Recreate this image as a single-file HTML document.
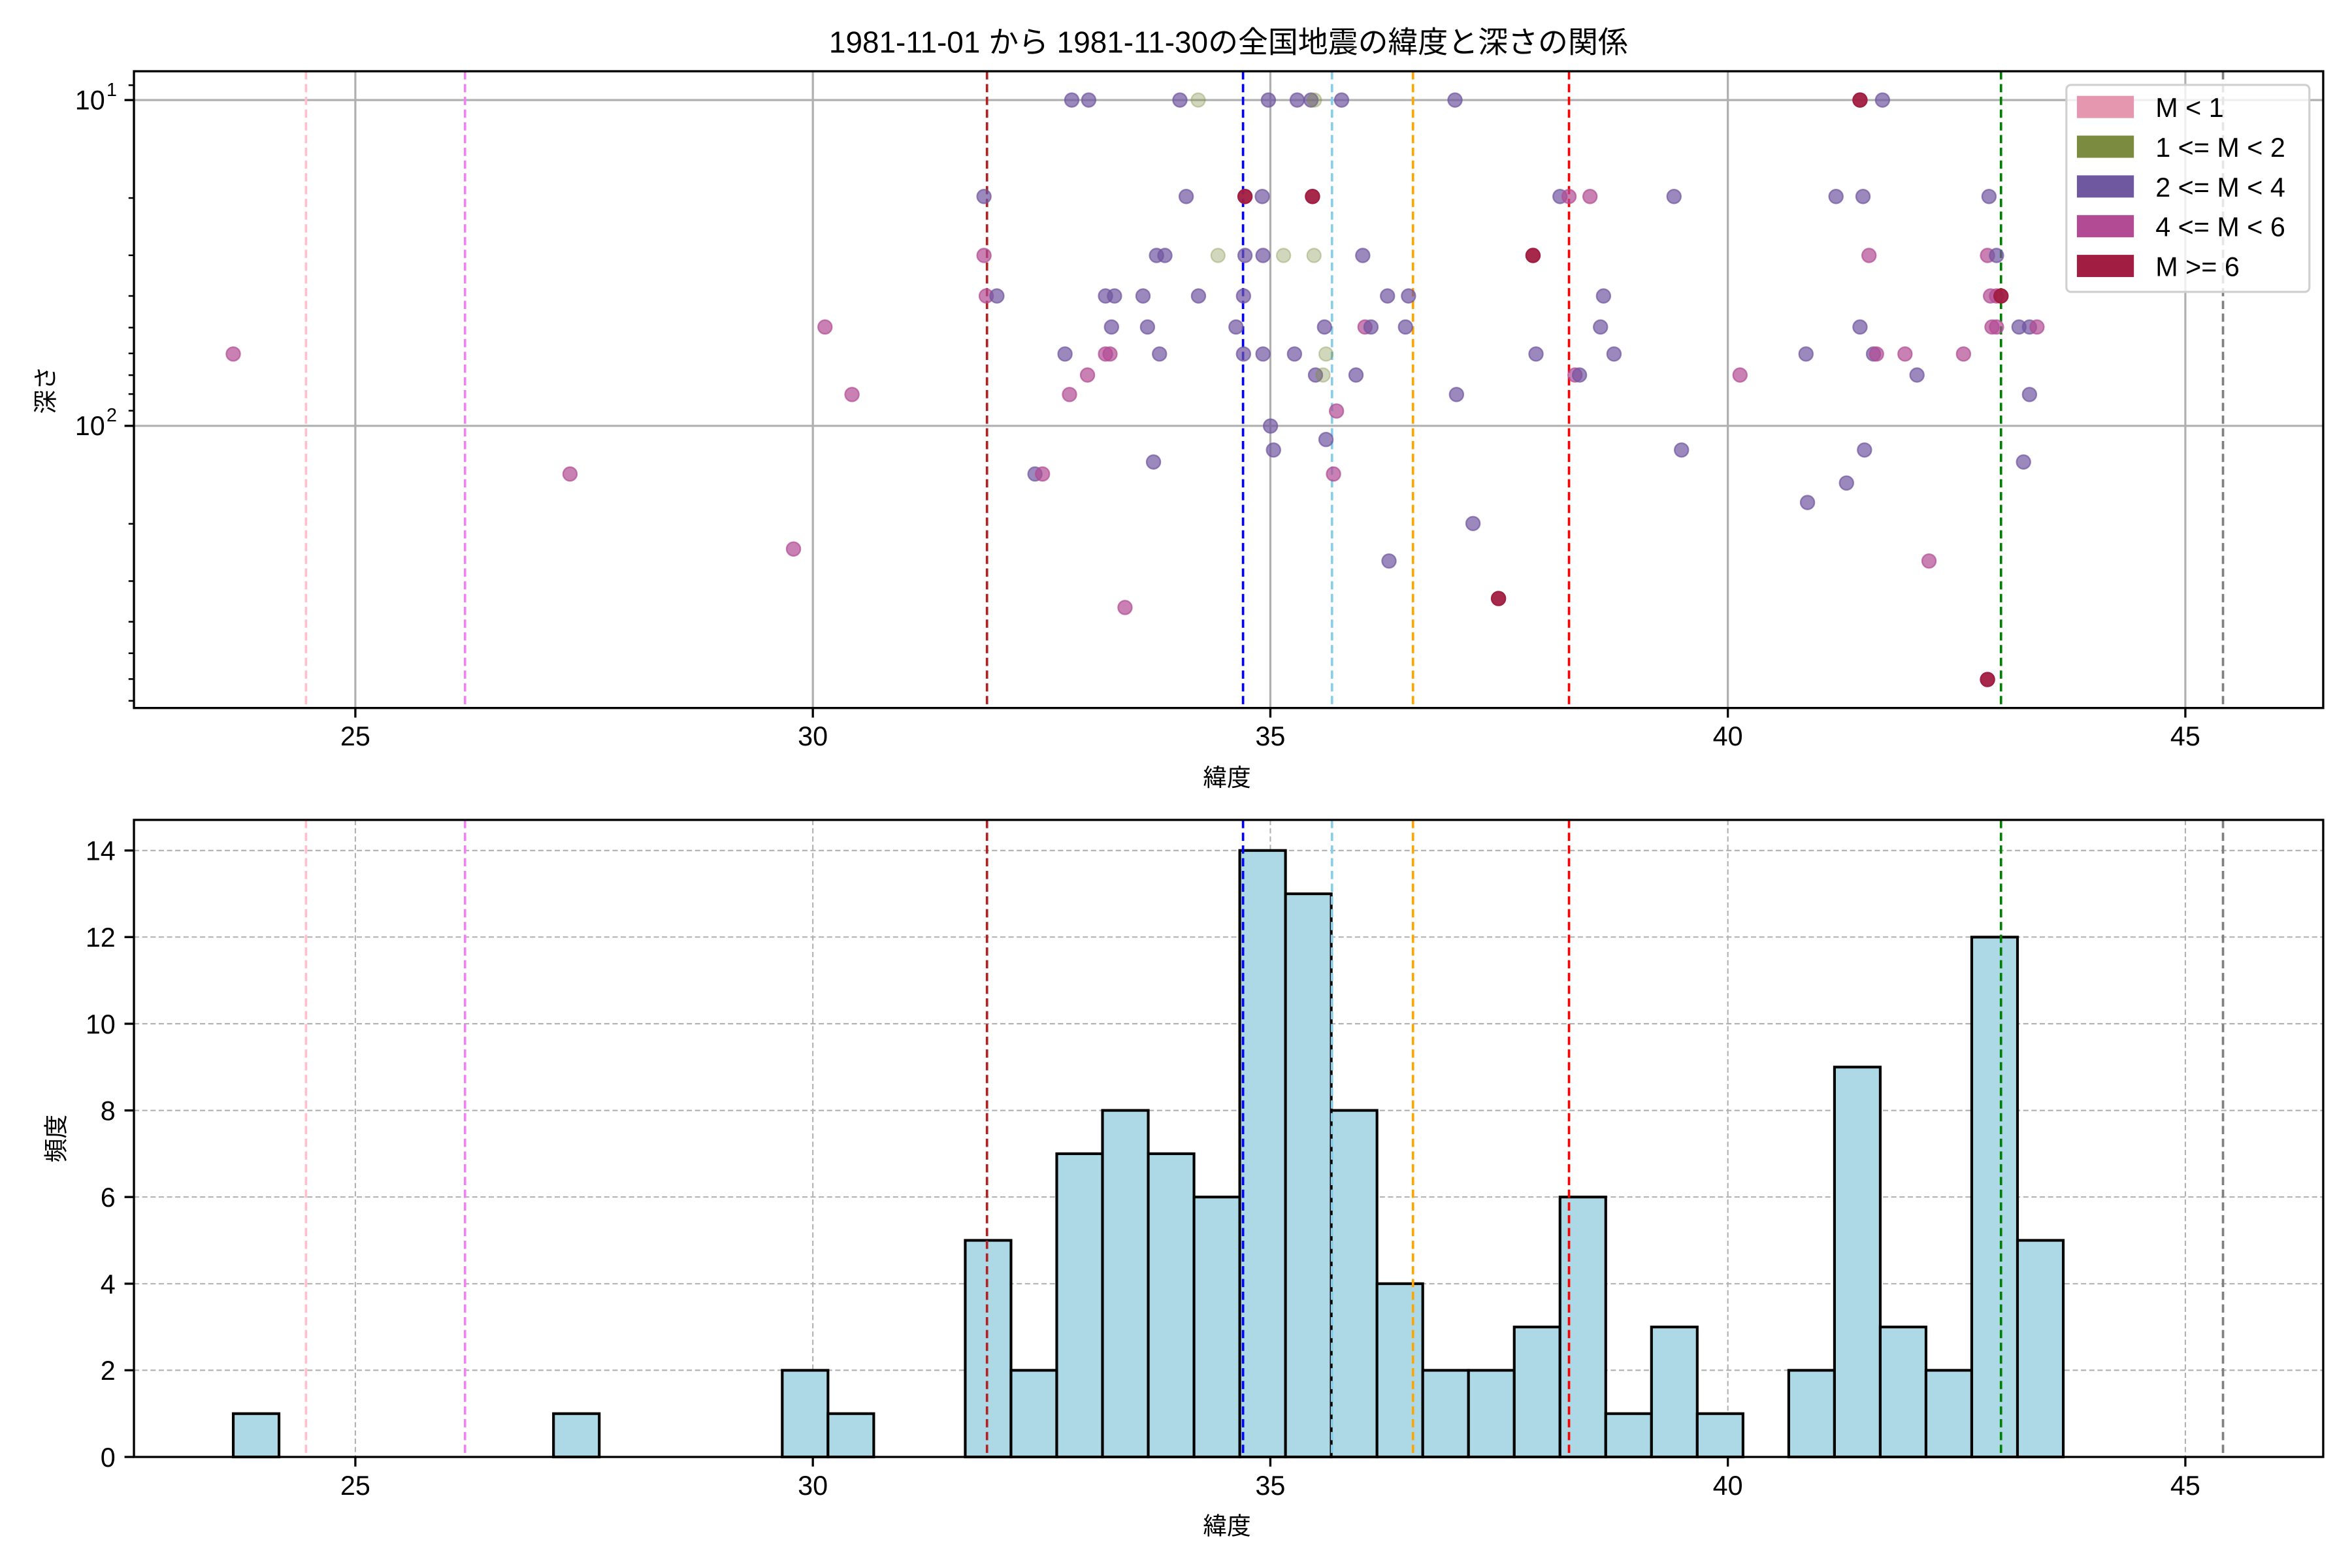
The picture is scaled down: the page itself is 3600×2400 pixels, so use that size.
<!DOCTYPE html>
<html><head><meta charset="utf-8"><style>
html,body{margin:0;padding:0;background:#fff;}
svg{display:block;}
text{font-family:"Liberation Sans","Noto Sans CJK JP",sans-serif;fill:#000;}
.p{fill:#7055a0;fill-opacity:.7;stroke:#7055a0;stroke-opacity:.7;stroke-width:1}
.m{fill:#b24b94;fill-opacity:.7;stroke:#b24b94;stroke-opacity:.7;stroke-width:1}
.c{fill:#a11d42;fill-opacity:.95;stroke:#a11d42;stroke-width:1}
.o{fill:#7b8b40;fill-opacity:.35;stroke:#7b8b40;stroke-opacity:.35;stroke-width:1}
.bar{fill:#add8e6;stroke:#000;stroke-width:1.8}
.vl{stroke-width:1.6;stroke-dasharray:5.5,3;fill:none}
</style></head><body>
<svg width="3600" height="2400" viewBox="0 0 1568 1045.33" preserveAspectRatio="none" xmlns="http://www.w3.org/2000/svg">
<rect x="0" y="0" width="1568" height="1046" fill="#fff"/>
<text x="819" y="35" font-size="20" text-anchor="middle">1981-11-01 から 1981-11-30の全国地震の緯度と深さの関係</text>

<!-- ===== TOP AXES ===== -->
<g stroke="#b0b0b0" stroke-width="1.4">
<line x1="236.9" y1="47.5" x2="236.9" y2="472"/>
<line x1="541.9" y1="47.5" x2="541.9" y2="472"/>
<line x1="846.9" y1="47.5" x2="846.9" y2="472"/>
<line x1="1151.9" y1="47.5" x2="1151.9" y2="472"/>
<line x1="1456.9" y1="47.5" x2="1456.9" y2="472"/>
<line x1="89.3" y1="66.7" x2="1548.8" y2="66.7"/>
<line x1="89.3" y1="283.9" x2="1548.8" y2="283.9"/>
</g>
<g class="vl" style="stroke-dasharray:5.5,3">
<line x1="204" y1="47.5" x2="204" y2="472" stroke="#ffc0cb"/>
<line x1="310" y1="47.5" x2="310" y2="472" stroke="#ee82ee"/>
<line x1="658" y1="47.5" x2="658" y2="472" stroke="#b22222"/>
<line x1="828.7" y1="47.5" x2="828.7" y2="472" stroke="#0000ff"/>
<line x1="888" y1="47.5" x2="888" y2="472" stroke="#87ceeb"/>
<line x1="942" y1="47.5" x2="942" y2="472" stroke="#ffa500"/>
<line x1="1046" y1="47.5" x2="1046" y2="472" stroke="#ff0000"/>
<line x1="1334" y1="47.5" x2="1334" y2="472" stroke="#008000"/>
<line x1="1482" y1="47.5" x2="1482" y2="472" stroke="#808080"/>
</g>
<g>
<circle r="4.6" cx="714.5" cy="66.7" class="p"/><circle r="4.6" cx="725.8" cy="66.7" class="p"/><circle r="4.6" cx="786.6" cy="66.7" class="p"/><circle r="4.6" cx="798.8" cy="66.7" class="o"/><circle r="4.6" cx="845.6" cy="66.7" class="p"/><circle r="4.6" cx="864.8" cy="66.7" class="p"/><circle r="4.6" cx="874" cy="66.7" class="p"/><circle r="4.6" cx="876.3" cy="66.7" class="o"/><circle r="4.6" cx="894.4" cy="66.7" class="p"/><circle r="4.6" cx="970" cy="66.7" class="p"/><circle r="4.6" cx="1240" cy="66.7" class="c"/><circle r="4.6" cx="1255" cy="66.7" class="p"/>
<circle r="4.6" cx="656" cy="131" class="p"/><circle r="4.6" cx="790.8" cy="131" class="p"/><circle r="4.6" cx="830" cy="131" class="c"/><circle r="4.6" cx="841.5" cy="131" class="p"/><circle r="4.6" cx="875" cy="131" class="c"/><circle r="4.6" cx="1040" cy="131" class="p"/><circle r="4.6" cx="1046" cy="131" class="m"/><circle r="4.6" cx="1060" cy="131" class="m"/><circle r="4.6" cx="1116" cy="131" class="p"/><circle r="4.6" cx="1224" cy="131" class="p"/><circle r="4.6" cx="1242" cy="131" class="p"/><circle r="4.6" cx="1326" cy="131" class="p"/>
<circle r="4.6" cx="656" cy="170.3" class="m"/><circle r="4.6" cx="771" cy="170.3" class="p"/><circle r="4.6" cx="776.6" cy="170.3" class="p"/><circle r="4.6" cx="812" cy="170.3" class="o"/><circle r="4.6" cx="830" cy="170.3" class="p"/><circle r="4.6" cx="842" cy="170.3" class="p"/><circle r="4.6" cx="855.7" cy="170.3" class="o"/><circle r="4.6" cx="876" cy="170.3" class="o"/><circle r="4.6" cx="908.5" cy="170.3" class="p"/><circle r="4.6" cx="1022" cy="170.3" class="c"/><circle r="4.6" cx="1246" cy="170.3" class="m"/><circle r="4.6" cx="1325" cy="170.3" class="m"/><circle r="4.6" cx="1331" cy="170.3" class="p"/>
<circle r="4.6" cx="657.5" cy="197.3" class="m"/><circle r="4.6" cx="664.6" cy="197.3" class="p"/><circle r="4.6" cx="737" cy="197.3" class="p"/><circle r="4.6" cx="743" cy="197.3" class="p"/><circle r="4.6" cx="762" cy="197.3" class="p"/><circle r="4.6" cx="799" cy="197.3" class="p"/><circle r="4.6" cx="829" cy="197.3" class="p"/><circle r="4.6" cx="925" cy="197.3" class="p"/><circle r="4.6" cx="939" cy="197.3" class="p"/><circle r="4.6" cx="1069" cy="197.3" class="p"/><circle r="4.6" cx="1327" cy="197.3" class="m"/><circle r="4.6" cx="1331" cy="197.3" class="m"/><circle r="4.6" cx="1334" cy="197.3" class="c"/>
<circle r="4.6" cx="550" cy="218" class="m"/><circle r="4.6" cx="741" cy="218" class="p"/><circle r="4.6" cx="765" cy="218" class="p"/><circle r="4.6" cx="824" cy="218" class="p"/><circle r="4.6" cx="883" cy="218" class="p"/><circle r="4.6" cx="910" cy="218" class="m"/><circle r="4.6" cx="914" cy="218" class="p"/><circle r="4.6" cx="937" cy="218" class="p"/><circle r="4.6" cx="1067" cy="218" class="p"/><circle r="4.6" cx="1240" cy="218" class="p"/><circle r="4.6" cx="1328" cy="218" class="m"/><circle r="4.6" cx="1331" cy="218" class="m"/><circle r="4.6" cx="1346" cy="218" class="p"/><circle r="4.6" cx="1353" cy="218" class="p"/><circle r="4.6" cx="1358" cy="218" class="m"/>
<circle r="4.6" cx="155.5" cy="236" class="m"/><circle r="4.6" cx="710" cy="236" class="p"/><circle r="4.6" cx="737" cy="236" class="m"/><circle r="4.6" cx="740" cy="236" class="m"/><circle r="4.6" cx="773" cy="236" class="p"/><circle r="4.6" cx="829" cy="236" class="p"/><circle r="4.6" cx="842" cy="236" class="p"/><circle r="4.6" cx="863" cy="236" class="p"/><circle r="4.6" cx="884" cy="236" class="o"/><circle r="4.6" cx="1024" cy="236" class="p"/><circle r="4.6" cx="1076" cy="236" class="p"/><circle r="4.6" cx="1204" cy="236" class="p"/><circle r="4.6" cx="1249" cy="236" class="p"/><circle r="4.6" cx="1251" cy="236" class="m"/><circle r="4.6" cx="1270" cy="236" class="m"/><circle r="4.6" cx="1309" cy="236" class="m"/>
<circle r="4.6" cx="725" cy="250" class="m"/><circle r="4.6" cx="877" cy="250" class="p"/><circle r="4.6" cx="882" cy="250" class="o"/><circle r="4.6" cx="904" cy="250" class="p"/><circle r="4.6" cx="1050" cy="250" class="m"/><circle r="4.6" cx="1053" cy="250" class="p"/><circle r="4.6" cx="1160" cy="250" class="m"/><circle r="4.6" cx="1278" cy="250" class="p"/>
<circle r="4.6" cx="568" cy="263" class="m"/><circle r="4.6" cx="713" cy="263" class="m"/><circle r="4.6" cx="971" cy="263" class="p"/><circle r="4.6" cx="1353" cy="263" class="p"/>
<circle r="4.6" cx="891" cy="274" class="m"/><circle r="4.6" cx="847" cy="284" class="p"/><circle r="4.6" cx="884" cy="293" class="p"/>
<circle r="4.6" cx="849" cy="300" class="p"/><circle r="4.6" cx="1121" cy="300" class="p"/><circle r="4.6" cx="1243" cy="300" class="p"/>
<circle r="4.6" cx="769" cy="308" class="p"/><circle r="4.6" cx="1349" cy="308" class="p"/>
<circle r="4.6" cx="380" cy="316" class="m"/><circle r="4.6" cx="690" cy="316" class="p"/><circle r="4.6" cx="695" cy="316" class="m"/><circle r="4.6" cx="889" cy="316" class="m"/>
<circle r="4.6" cx="1231" cy="322" class="p"/><circle r="4.6" cx="1205" cy="335" class="p"/><circle r="4.6" cx="982" cy="349" class="p"/><circle r="4.6" cx="529" cy="366" class="m"/>
<circle r="4.6" cx="926" cy="374" class="p"/><circle r="4.6" cx="1286" cy="374" class="m"/><circle r="4.6" cx="999" cy="399" class="c"/><circle r="4.6" cx="750" cy="405" class="m"/><circle r="4.6" cx="1325" cy="453" class="c"/>
</g>
<rect x="89.3" y="47.5" width="1459.5" height="424.5" fill="none" stroke="#000" stroke-width="1.45"/>
<g stroke="#000" stroke-width="1.45">
<line x1="236.9" y1="472" x2="236.9" y2="478.4"/><line x1="541.9" y1="472" x2="541.9" y2="478.4"/><line x1="846.9" y1="472" x2="846.9" y2="478.4"/><line x1="1151.9" y1="472" x2="1151.9" y2="478.4"/><line x1="1456.9" y1="472" x2="1456.9" y2="478.4"/>
<line x1="83" y1="66.7" x2="89.3" y2="66.7"/><line x1="83" y1="283.9" x2="89.3" y2="283.9"/>
</g>
<g stroke="#000" stroke-width="1.1">
<line x1="85.7" y1="56.8" x2="89.3" y2="56.8"/><line x1="85.7" y1="132" x2="89.3" y2="132"/><line x1="85.7" y1="170.2" x2="89.3" y2="170.2"/><line x1="85.7" y1="197.3" x2="89.3" y2="197.3"/><line x1="85.7" y1="218.4" x2="89.3" y2="218.4"/><line x1="85.7" y1="235.6" x2="89.3" y2="235.6"/><line x1="85.7" y1="250.1" x2="89.3" y2="250.1"/><line x1="85.7" y1="262.7" x2="89.3" y2="262.7"/><line x1="85.7" y1="273.8" x2="89.3" y2="273.8"/>
<line x1="85.7" y1="349.2" x2="89.3" y2="349.2"/><line x1="85.7" y1="387.4" x2="89.3" y2="387.4"/><line x1="85.7" y1="414.5" x2="89.3" y2="414.5"/><line x1="85.7" y1="435.5" x2="89.3" y2="435.5"/><line x1="85.7" y1="452.7" x2="89.3" y2="452.7"/><line x1="85.7" y1="467.2" x2="89.3" y2="467.2"/>
</g>
<g font-size="18" text-anchor="middle">
<text x="236.9" y="497">25</text><text x="541.9" y="497">30</text><text x="846.9" y="497">35</text><text x="1151.9" y="497">40</text><text x="1456.9" y="497">45</text>
</g>
<text x="70" y="73" font-size="18" text-anchor="end">10</text><text x="71" y="64" font-size="12.5">1</text>
<text x="70" y="290" font-size="18" text-anchor="end">10</text><text x="71" y="281" font-size="12.5">2</text>
<text x="818" y="524" font-size="16" text-anchor="middle">緯度</text>
<text transform="translate(36,260) rotate(-90)" font-size="16" text-anchor="middle">深さ</text>
<!-- legend -->
<rect x="1377.6" y="56.6" width="162" height="138" rx="3" fill="#fff" fill-opacity="0.8" stroke="#d0d0d0" stroke-width="1.4"/>
<rect x="1384.6" y="63.9" width="38" height="14.8" fill="#e597b0"/>
<rect x="1384.6" y="90.4" width="38" height="14.8" fill="#7b8b40"/>
<rect x="1384.6" y="116.9" width="38" height="14.8" fill="#7058a0"/>
<rect x="1384.6" y="143.4" width="38" height="14.8" fill="#b24b94"/>
<rect x="1384.6" y="169.9" width="38" height="14.8" fill="#a11d42"/>
<g font-size="18">
<text x="1437" y="78">M &lt; 1</text>
<text x="1437" y="104.5">1 &lt;= M &lt; 2</text>
<text x="1437" y="131">2 &lt;= M &lt; 4</text>
<text x="1437" y="157.5">4 &lt;= M &lt; 6</text>
<text x="1437" y="184">M &gt;= 6</text>
</g>

<!-- ===== BOTTOM AXES ===== -->
<g stroke="#b0b0b0" stroke-width="0.9" stroke-dasharray="3.5,2">
<line x1="236.9" y1="546.6" x2="236.9" y2="971.3"/><line x1="541.9" y1="546.6" x2="541.9" y2="971.3"/><line x1="846.9" y1="546.6" x2="846.9" y2="971.3"/><line x1="1151.9" y1="546.6" x2="1151.9" y2="971.3"/><line x1="1456.9" y1="546.6" x2="1456.9" y2="971.3"/>
<line x1="89.3" y1="913.5" x2="1548.8" y2="913.5"/><line x1="89.3" y1="855.8" x2="1548.8" y2="855.8"/><line x1="89.3" y1="798" x2="1548.8" y2="798"/><line x1="89.3" y1="740.3" x2="1548.8" y2="740.3"/><line x1="89.3" y1="682.5" x2="1548.8" y2="682.5"/><line x1="89.3" y1="624.7" x2="1548.8" y2="624.7"/><line x1="89.3" y1="567" x2="1548.8" y2="567"/>
</g>
<g transform="translate(0,971.3) scale(1,-1)">
<rect class="bar" x="155.5" y="0" width="30.5" height="28.88"/>
<rect class="bar" x="369" y="0" width="30.5" height="28.88"/>
<rect class="bar" x="521.5" y="0" width="30.5" height="57.76"/>
<rect class="bar" x="552" y="0" width="30.5" height="28.88"/>
<rect class="bar" x="643.5" y="0" width="30.5" height="144.4"/>
<rect class="bar" x="674" y="0" width="30.5" height="57.76"/>
<rect class="bar" x="704.5" y="0" width="30.5" height="202.16"/>
<rect class="bar" x="735" y="0" width="30.5" height="231.04"/>
<rect class="bar" x="765.5" y="0" width="30.5" height="202.16"/>
<rect class="bar" x="796" y="0" width="30.5" height="173.28"/>
<rect class="bar" x="826.5" y="0" width="30.5" height="404.32"/>
<rect class="bar" x="857" y="0" width="30.5" height="375.44"/>
<rect class="bar" x="887.5" y="0" width="30.5" height="231.04"/>
<rect class="bar" x="918" y="0" width="30.5" height="115.52"/>
<rect class="bar" x="948.5" y="0" width="30.5" height="57.76"/>
<rect class="bar" x="979" y="0" width="30.5" height="57.76"/>
<rect class="bar" x="1009.5" y="0" width="30.5" height="86.64"/>
<rect class="bar" x="1040" y="0" width="30.5" height="173.28"/>
<rect class="bar" x="1070.5" y="0" width="30.5" height="28.88"/>
<rect class="bar" x="1101" y="0" width="30.5" height="86.64"/>
<rect class="bar" x="1131.5" y="0" width="30.5" height="28.88"/>
<rect class="bar" x="1192.5" y="0" width="30.5" height="57.76"/>
<rect class="bar" x="1223" y="0" width="30.5" height="259.92"/>
<rect class="bar" x="1253.5" y="0" width="30.5" height="86.64"/>
<rect class="bar" x="1284" y="0" width="30.5" height="57.76"/>
<rect class="bar" x="1314.5" y="0" width="30.5" height="346.56"/>
<rect class="bar" x="1345" y="0" width="30.5" height="144.4"/>
</g>
<g class="vl">
<line x1="204" y1="546.6" x2="204" y2="971.3" stroke="#ffc0cb"/>
<line x1="310" y1="546.6" x2="310" y2="971.3" stroke="#ee82ee"/>
<line x1="658" y1="546.6" x2="658" y2="971.3" stroke="#b22222"/>
<line x1="828.7" y1="546.6" x2="828.7" y2="971.3" stroke="#0000ff"/>
<line x1="888" y1="546.6" x2="888" y2="971.3" stroke="#87ceeb"/>
<line x1="942" y1="546.6" x2="942" y2="971.3" stroke="#ffa500"/>
<line x1="1046" y1="546.6" x2="1046" y2="971.3" stroke="#ff0000"/>
<line x1="1334" y1="546.6" x2="1334" y2="971.3" stroke="#008000"/>
<line x1="1482" y1="546.6" x2="1482" y2="971.3" stroke="#808080"/>
</g>
<rect x="89.3" y="546.6" width="1459.5" height="424.7" fill="none" stroke="#000" stroke-width="1.45"/>
<g stroke="#000" stroke-width="1.45">
<line x1="236.9" y1="971.3" x2="236.9" y2="977.7"/><line x1="541.9" y1="971.3" x2="541.9" y2="977.7"/><line x1="846.9" y1="971.3" x2="846.9" y2="977.7"/><line x1="1151.9" y1="971.3" x2="1151.9" y2="977.7"/><line x1="1456.9" y1="971.3" x2="1456.9" y2="977.7"/>
<line x1="83" y1="971.3" x2="89.3" y2="971.3"/><line x1="83" y1="913.5" x2="89.3" y2="913.5"/><line x1="83" y1="855.8" x2="89.3" y2="855.8"/><line x1="83" y1="798" x2="89.3" y2="798"/><line x1="83" y1="740.3" x2="89.3" y2="740.3"/><line x1="83" y1="682.5" x2="89.3" y2="682.5"/><line x1="83" y1="624.7" x2="89.3" y2="624.7"/><line x1="83" y1="567" x2="89.3" y2="567"/>
</g>
<g font-size="18" text-anchor="middle">
<text x="236.9" y="996.5">25</text><text x="541.9" y="996.5">30</text><text x="846.9" y="996.5">35</text><text x="1151.9" y="996.5">40</text><text x="1456.9" y="996.5">45</text>
</g>
<g font-size="18" text-anchor="end">
<text x="77" y="977.8">0</text><text x="77" y="920">2</text><text x="77" y="862.3">4</text><text x="77" y="804.5">6</text><text x="77" y="746.8">8</text><text x="77" y="689">10</text><text x="77" y="631.2">12</text><text x="77" y="573.5">14</text>
</g>
<text x="818" y="1023" font-size="16" text-anchor="middle">緯度</text>
<text transform="translate(43,759) rotate(-90)" font-size="16" text-anchor="middle">頻度</text>
</svg>
</body></html>
